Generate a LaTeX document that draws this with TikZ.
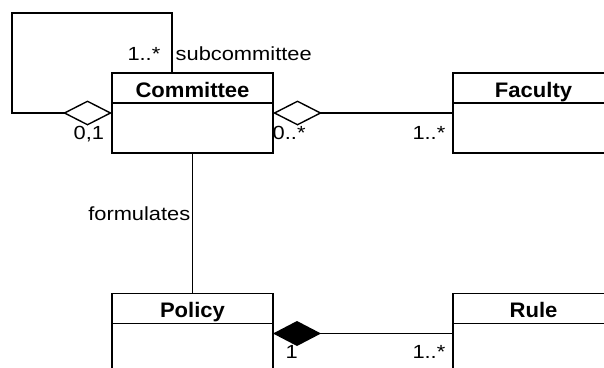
\documentclass[tikz,border=0pt]{standalone}
\usepackage{fontspec}
\setmainfont{Liberation Sans}
\newfontfamily\lblfont[FakeStretch=1.15]{Liberation Sans}
\newfontfamily\ttlfont[FakeStretch=1.05]{Liberation Sans}
\usetikzlibrary{arrows.meta}
\begin{document}
\begin{tikzpicture}[x=1pt,y=-1pt,
  line width=1.4pt,
  header/.style={draw, rectangle, minimum width=161pt, minimum height=30pt,
    text height=18pt, text depth=0pt,
    inner sep=0pt, outer sep=0pt, font=\ttlfont\fontsize{21}{21}\selectfont\bfseries},
  body/.style={draw, rectangle, minimum width=161pt, minimum height=50pt,
    inner sep=0pt, outer sep=0pt},
  lbl/.style={inner sep=0pt, font=\lblfont\fontsize{19}{19}\selectfont},
  agg/.style={{Diamond[open,fill=white,length=49pt,width=25pt]}-},
  comp/.style={{Diamond[length=48pt,width=25pt]}-}]
\useasboundingbox (0,0) rectangle (604,367);
\begin{scope}
\clip (0,0) rectangle (604,367);
% classes
\node[header] (cmH) at (192.5,88) {Committee};
\node[body, anchor=north] (cmB) at (cmH.south) {};
\node[header] (faH) at (533.5,88) {Faculty};
\node[body, anchor=north] (faB) at (faH.south) {};
\node[header] (poH) at (192.5,308.5) {Policy};
\node[body, anchor=north] (poB) at (poH.south) {};
\node[header] (ruH) at (533.5,308.5) {Rule};
\node[body, anchor=north] (ruB) at (ruH.south) {};
% associations
\coordinate (loopTL) at (12,13);
\draw[agg] ([yshift=-10pt]cmB.north west) -| (loopTL) -| ([xshift=60pt]cmH.north west);
\draw[agg] ([yshift=-10pt]cmB.north east) -- ([yshift=-10pt]faB.north west);
\draw (cmB.south) -- (poH.north);
\draw[comp] ([yshift=-10pt]poB.north east) -- ([yshift=-10pt]ruB.north west);
% labels
\node[lbl, anchor=base east] (m1) at (161,60) {1..*};
\node[lbl, anchor=base west] (rn) at (175,60) {subcommittee};
\node[lbl, anchor=base west] (m2) at (73,139) {0,1};
\node[lbl, anchor=base west] (m3) at (272,139) {0..*};
\node[lbl, anchor=base east] (m4) at (446,139) {1..*};
\node[lbl, anchor=base east] (fm) at (191,220) {formulates};
\node[lbl, anchor=base west] (m5) at (285,358) {1};
\node[lbl, anchor=base east] (m6) at (446,358) {1..*};
\end{scope}
\end{tikzpicture}
\end{document}
